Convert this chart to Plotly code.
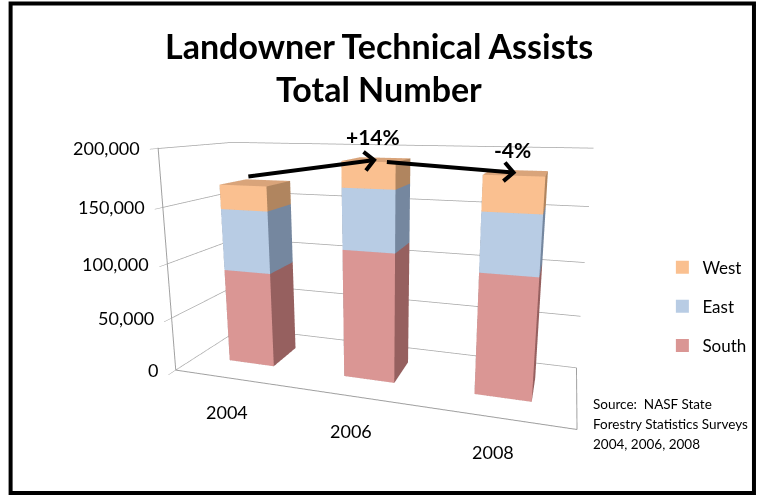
import plotly.graph_objects as go

# ---- data -------------------------------------------------------------
years = ["2004", "2006", "2008"]
south = [88500, 115500, 104800]
east = [56500, 53000, 49300]
west = [22000, 22000, 28600]

series_names = ["South", "East", "West"]
series_values = [south, east, west]
front_colors = ["#DA9694", "#B8CCE4", "#FAC090"]
side_colors = ["#96605F", "#75879F", "#B0855F"]
top_colors = ["#C07C7B", "#9AAFC8", "#D9A47A"]

z_ticks = [0, 50000, 100000, 150000, 200000]

FONT = "Lato"
BAR_HALF = 0.2          # half width of a bar along the category axis
DEPTH = (0.3, 0.7)      # bar extent along the depth axis


def box_mesh(values, bases, front, side, top, name):
    xs, ys, zs, ii, jj, kk, fc = [], [], [], [], [], [], []
    for idx, (v, b) in enumerate(zip(values, bases)):
        x0, x1 = idx - BAR_HALF, idx + BAR_HALF
        y0, y1 = DEPTH
        z0, z1 = b, b + v
        n = len(xs)
        corners = [
            (x0, y0, z0), (x1, y0, z0), (x1, y1, z0), (x0, y1, z0),
            (x0, y0, z1), (x1, y0, z1), (x1, y1, z1), (x0, y1, z1),
        ]
        for cx, cy, cz in corners:
            xs.append(cx); ys.append(cy); zs.append(cz)
        faces = [
            ((0, 1, 5), front), ((0, 5, 4), front),      # front
            ((1, 2, 6), side), ((1, 6, 5), side),        # right
            ((4, 5, 6), top), ((4, 6, 7), top),          # top
            ((3, 2, 6), side), ((3, 6, 7), side),        # back
            ((0, 3, 7), side), ((0, 7, 4), side),        # left
            ((0, 1, 2), side), ((0, 2, 3), side),        # bottom
        ]
        for (a, b_, c), col in faces:
            ii.append(n + a); jj.append(n + b_); kk.append(n + c); fc.append(col)
    return go.Mesh3d(
        x=xs, y=ys, z=zs, i=ii, j=jj, k=kk, facecolor=fc, flatshading=True,
        lighting=dict(ambient=1.0, diffuse=0.0, specular=0.0, roughness=1.0, fresnel=0.0),
        hoverinfo="skip", showlegend=False, name=name,
    )


fig = go.Figure()
bases = [0, 0, 0]
for name, vals, fcol, scol, tcol in zip(series_names, series_values, front_colors, side_colors, top_colors):
    fig.add_trace(box_mesh(vals, bases, fcol, scol, tcol, name))
    bases = [b + v for b, v in zip(bases, vals)]
totals = bases

# legend entries (West on top)
for name, col in reversed(list(zip(series_names, front_colors))):
    fig.add_trace(go.Scatter(
        x=[None], y=[None], mode="markers", name=name, legendgroup=name,
        marker=dict(symbol="square", size=13, color=col),
    ))

# percentage change between consecutive years
changes = [(totals[k + 1] / totals[k] - 1) * 100 for k in range(len(totals) - 1)]

annotations3d = []
arrow_offsets = [(-130, 17), (-131, -11)]
for k, ch in enumerate(changes):
    ax, ay = arrow_offsets[k]
    annotations3d.append(dict(
        x=k + 1, y=0.5, z=totals[k + 1], text="", showarrow=True,
        arrowhead=4, arrowsize=0.9, arrowwidth=4, arrowcolor="black",
        ax=ax, ay=ay,
    ))
    annotations3d.append(dict(
        x=k + 1, y=0.5, z=totals[k + 1], text=f"<b>{ch:+.0f}%</b>",
        showarrow=False, yshift=23, xshift=-4,
        font=dict(family=FONT, size=21, color="black"),
    ))

# value-axis labels, screen aligned, next to the front-left edge
for v in z_ticks:
    annotations3d.append(dict(
        x=-0.5, y=0, z=v, text=f"{v:,}", showarrow=False,
        xanchor="right", xshift=-16, font=dict(family=FONT, size=18, color="black"),
    ))
# category labels below the front floor edge
for i, yr in enumerate(years):
    annotations3d.append(dict(
        x=i, y=0, z=0, text=yr, showarrow=False,
        yshift=-34, xshift=-5, font=dict(family=FONT, size=18, color="black"),
    ))

axis_common = dict(
    showbackground=False, showspikes=False, zeroline=False, showticklabels=False,
    title=dict(text=""), linecolor="#A0A0A0", linewidth=2,
)

fig.update_layout(
    width=757, height=497,
    margin=dict(l=0, r=0, t=0, b=0),
    paper_bgcolor="white", plot_bgcolor="white",
    font=dict(family=FONT, color="black"),
    xaxis=dict(visible=False), yaxis=dict(visible=False),
    legend=dict(
        x=0.875, y=0.383, xanchor="left", yanchor="middle",
        font=dict(family=FONT, size=17), tracegroupgap=14,
        itemclick=False, itemdoubleclick=False, bgcolor="rgba(0,0,0,0)",
    ),
    scene=dict(
        domain=dict(x=[0.0, 1.0], y=[0.0, 1.0]),
        aspectmode="manual", aspectratio=dict(x=2.4, y=0.8, z=1.38),
        camera=dict(
            eye=dict(x=1.08, y=-3.36, z=0.88), center=dict(x=0.01, y=0, z=0.09),
            up=dict(x=0, y=0, z=1), projection=dict(type="perspective"),
        ),
        xaxis=dict(**axis_common, range=[-0.5, 2.5], tickvals=[0, 1, 2],
                   showgrid=False, showline=True, ticks=""),
        yaxis=dict(**axis_common, range=[0, 1], showgrid=False, showline=True, ticks=""),
        zaxis=dict(**axis_common, range=[0, 200600], tickvals=z_ticks,
                   showgrid=True, gridcolor="#A6A6A6", gridwidth=1.5, showline=True,
                   ticks="outside", tickcolor="#A0A0A0"),
        annotations=annotations3d,
    ),
    annotations=[
        dict(text="<b>Landowner Technical Assists</b>", xref="paper", yref="paper",
             x=0.5, y=1 - 45 / 497, xanchor="center", yanchor="middle", showarrow=False,
             font=dict(family=FONT, size=34, color="black")),
        dict(text="<b>Total Number</b>", xref="paper", yref="paper",
             x=0.5, y=1 - 88 / 497, xanchor="center", yanchor="middle", showarrow=False,
             font=dict(family=FONT, size=34, color="black")),
    ] + [
        dict(text=line, xref="paper", yref="paper", x=591 / 757, y=1 - yy / 497,
             xanchor="left", yanchor="middle", showarrow=False,
             font=dict(family=FONT, size=13.5, color="black"))
        for line, yy in [("Source:  NASF State", 404), ("Forestry Statistics Surveys", 424),
                         ("2004, 2006, 2008", 444)]
    ],
    shapes=[dict(
        type="rect", xref="paper", yref="paper", x0=0.014, y0=0.008, x1=0.996, y1=0.993,
        line=dict(color="black", width=4), fillcolor="rgba(0,0,0,0)",
    )],
    showlegend=True,
)

fig.write_html("out.html")
